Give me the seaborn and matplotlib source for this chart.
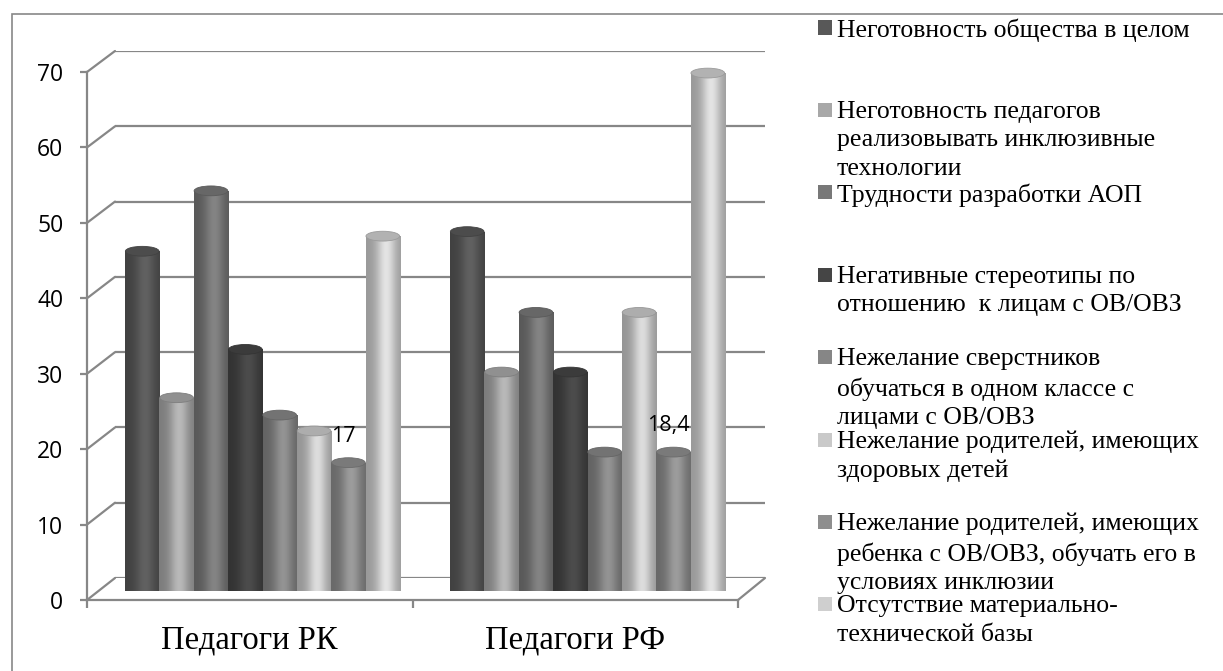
import numpy as np
import pandas as pd
import matplotlib
matplotlib.use("Agg")
import matplotlib.pyplot as plt
import seaborn as sns
from matplotlib.patches import Ellipse, Rectangle
from matplotlib.lines import Line2D
from matplotlib.colors import to_rgb

# ---------------- data ----------------
groups = ["Педагоги РК", "Педагоги РФ"]
series = [
    "Неготовность общества в целом",
    "Неготовность педагогов\nреализовывать инклюзивные\nтехнологии",
    "Трудности разработки АОП",
    "Негативные стереотипы по\nотношению  к лицам с ОВ/ОВЗ",
    "Нежелание сверстников\nобучаться в одном классе с\nлицами с ОВ/ОВЗ",
    "Нежелание родителей, имеющих\nздоровых детей",
    "Нежелание родителей, имеющих\nребенка с ОВ/ОВЗ, обучать его в\nусловиях инклюзии",
    "Отсутствие материально-\nтехнической базы",
]
values_rk = [45, 25.6, 53, 32, 23.3, 21.2, 17, 47]
values_rf = [47.6, 29, 36.9, 29, 18.4, 36.9, 18.4, 68.6]
labelled = {("Педагоги РК", 6): "17", ("Педагоги РФ", 6): "18,4"}
y_ticks = [0, 10, 20, 30, 40, 50, 60, 70]

colors = ["#585858", "#a8a8a8", "#787878", "#454545",
          "#868686", "#c9c9c9", "#8e8e8e", "#cfcfcf"]

df = pd.DataFrame({
    "group": [g for g in groups for _ in series],
    "series": series * 2,
    "value": values_rk + values_rf,
})

# ---------------- style ----------------
sns.set_theme(style="white")
plt.rcParams["font.family"] = ["Open Sans", "DejaVu Sans"]
plt.rcParams["text.color"] = "black"
plt.rcParams["xtick.color"] = "black"
plt.rcParams["ytick.color"] = "black"
serif = ["Liberation Serif", "DejaVu Serif"]
W, H = 1223, 671
fig = plt.figure(figsize=(W / 100, H / 100), dpi=100)
grid_col = "#878787"


def box(x0, x1, y_bottom, y_top):
    return [x0 / W, (H - y_bottom) / H, (x1 - x0) / W, (y_bottom - y_top) / H]


# back wall (gridlines)
ax_back = fig.add_axes(box(115, 765, 578, 51))
ax_back.set_xlim(-0.5, 1.5)
ax_back.set_ylim(0, 70)
for v in y_ticks:
    ax_back.axhline(v, color=grid_col, lw=1.6)
ax_back.set_axis_off()

# bars sit at mid depth
ax_bars = fig.add_axes(box(100, 750, 591, 62.5))
ax_bars.patch.set_alpha(0)
sns.barplot(data=df, x="group", y="value", hue="series", order=groups,
            hue_order=series, palette=colors, width=0.846, gap=0,
            saturation=1, legend=False, ax=ax_bars)
ax_bars.set_xlim(-0.5, 1.5)
ax_bars.set_ylim(0, 70)

t = np.linspace(0, 1, 64)
shade = 0.74 + 0.36 * np.exp(-((t - 0.58) / 0.28) ** 2)
cap_h = 1.3
for p in list(ax_bars.patches):
    base = np.array(to_rgb(p.get_facecolor()))
    x0, w, h = p.get_x(), p.get_width(), p.get_height()
    xc = x0 + w / 2
    img = np.clip(shade[None, :, None] * base[None, None, :], 0, 1)
    p.set_facecolor("none")
    p.set_edgecolor("none")
    im = ax_bars.imshow(img, extent=(x0, x0 + w, -1, h), aspect="auto",
                        origin="lower", zorder=2, interpolation="bilinear")
    im.set_clip_path(p)
    bottom = Ellipse((xc, 0), w, cap_h, facecolor="none", edgecolor="none")
    ax_bars.add_patch(bottom)
    im2 = ax_bars.imshow(img, extent=(x0, x0 + w, -1, h), aspect="auto",
                         origin="lower", zorder=2, interpolation="bilinear")
    im2.set_clip_path(bottom)
    ax_bars.add_patch(Ellipse((xc, h), w * 0.98, cap_h,
                              facecolor=np.clip(base * 0.86, 0, 1),
                              edgecolor=np.clip(base * 0.75, 0, 1),
                              lw=0.6, zorder=3))

# data labels on the 7th series
for gi, g in enumerate(groups):
    for si in range(len(series)):
        if (g, si) in labelled:
            val = df[(df.group == g) & (df.series == series[si])]["value"].iloc[0]
            xc = gi - 0.846 / 2 + (si + 0.5) * 0.846 / 8
            ax_bars.annotate(labelled[(g, si)], (xc, val), xytext=(-4, 19),
                             textcoords="offset points", ha="center",
                             va="center", fontsize=15.5, zorder=5)

ax_bars.set_axis_off()
ax_bars.set_xlim(-0.5, 1.5)
ax_bars.set_ylim(0, 70)

# front axis with tick labels
ax_front = fig.add_axes(box(87, 738, 600, 72))
ax_front.patch.set_alpha(0)
ax_front.set_xlim(-0.5, 1.5)
ax_front.set_ylim(0, 70)
for s in ["top", "right"]:
    ax_front.spines[s].set_visible(False)
for s in ["left", "bottom"]:
    ax_front.spines[s].set_color(grid_col)
    ax_front.spines[s].set_linewidth(1.6)
ax_front.set_yticks(y_ticks)
ax_front.tick_params(axis="y", length=5, width=1.6, color=grid_col,
                     labelcolor="black", pad=12, labelsize=16.5, left=True)
ax_front.set_xticks([0, 1])
ax_front.set_xticklabels(groups, fontsize=23.5, fontfamily=serif)
ax_front.tick_params(axis="x", length=0, pad=18, bottom=True,
                     labelcolor="black")
ax_front.set_xticks([-0.5, 0.5, 1.5], minor=True)
ax_front.tick_params(axis="x", which="minor", length=6, width=1.6,
                     color=grid_col, bottom=True)

# depth lines joining front axis and back wall
to_fig = fig.transFigure.inverted()
for v in y_ticks:
    a = to_fig.transform(ax_front.transData.transform((-0.5, v)))
    b = to_fig.transform(ax_back.transData.transform((-0.5, v)))
    fig.add_artist(Line2D([a[0], b[0]], [a[1], b[1]], color=grid_col,
                          lw=1.6, transform=fig.transFigure))
a = to_fig.transform(ax_front.transData.transform((1.5, 0)))
b = to_fig.transform(ax_back.transData.transform((1.5, 0)))
fig.add_artist(Line2D([a[0], b[0]], [a[1], b[1]], color=grid_col,
                      lw=1.6, transform=fig.transFigure))

# legend, drawn by hand to keep the Excel spacing
leg_top, leg_step = 27.5, 82.4
for i, (lab, c) in enumerate(zip(series, colors)):
    yc = leg_top + i * leg_step
    fig.add_artist(Rectangle((818 / W, (H - yc - 7) / H), 14 / W, 14 / H,
                             facecolor=c, edgecolor="none",
                             transform=fig.transFigure))
    fig.text(837 / W, (H - yc + 9) / H, lab, ha="left", va="top",
             fontsize=18.5, linespacing=1.38, color="black",
             fontfamily=serif)

# chart frame
fig.add_artist(Rectangle((12 / W, -0.1), 1.2, (H - 14) / H + 0.1,
                         fill=False, edgecolor=grid_col, lw=1.2,
                         transform=fig.transFigure))

fig.savefig("out.png", dpi=100)
